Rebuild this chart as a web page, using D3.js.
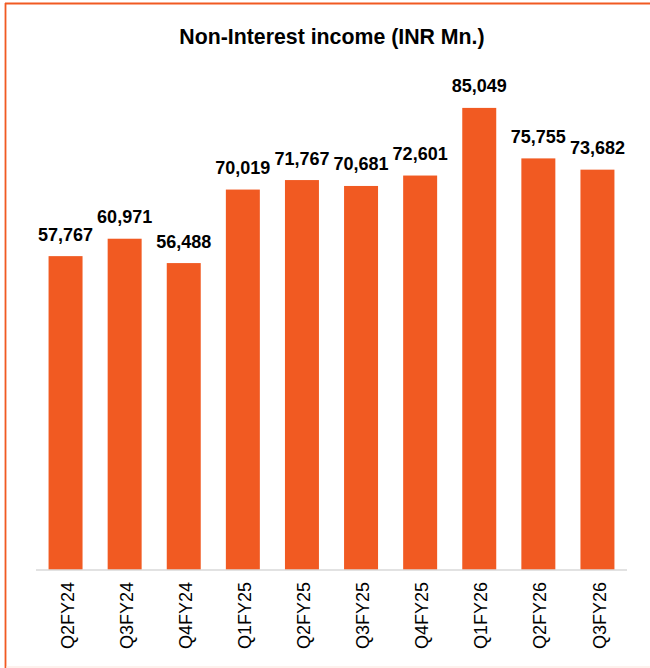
<!DOCTYPE html>
<html>
<head>
<meta charset="utf-8">
<script src="https://cdn.jsdelivr.net/npm/d3@7"></script>
<style>
  html, body { margin: 0; padding: 0; background: #fff; }
  svg { display: block; }
</style>
</head>
<body>
<svg id="chart" width="650" height="668"></svg>
<script>
const categories = ["Q2FY24","Q3FY24","Q4FY24","Q1FY25","Q2FY25","Q3FY25","Q4FY25","Q1FY26","Q2FY26","Q3FY26"];
const values = [57767, 60971, 56488, 70019, 71767, 70681, 72601, 85049, 75755, 73682];
const titleText = "Non-Interest income (INR Mn.)";

const svg = d3.select("#chart");
const W = 650, H = 668;
const margin = {left: 36, right: 23, top: 81, bottom: 98};
const barColor = "#F15A22";

// frame
svg.append("line").attr("x1", 5.5).attr("x2", 5.5).attr("y1", 3).attr("y2", 668)
  .attr("stroke", barColor).attr("stroke-width", 1.8);
svg.append("line").attr("x1", 5).attr("x2", 650).attr("y1", 3.5).attr("y2", 3.5)
  .attr("stroke", barColor).attr("stroke-width", 1.8);
svg.append("line").attr("x1", 6).attr("x2", 650).attr("y1", 667).attr("y2", 667)
  .attr("stroke", "#fde3da").attr("stroke-width", 1);

const x = d3.scaleBand().domain(categories).range([margin.left, W - margin.right]).paddingInner(0.425).paddingOuter(0.2125);
const y = d3.scaleLinear().domain([0, 90000]).range([H - margin.bottom, margin.top]);

svg.append("text").attr("x", 332).attr("y", 44).attr("text-anchor", "middle")
  .attr("font-family", "Liberation Sans, Arial, sans-serif").attr("font-weight", "bold")
  .attr("font-size", 21.3).attr("fill", "#000").text(titleText);

svg.append("g").selectAll("rect").data(values).join("rect")
  .attr("x", (d, i) => x(categories[i]))
  .attr("width", x.bandwidth())
  .attr("y", d => y(d))
  .attr("height", d => y(0) - y(d))
  .attr("fill", barColor);

svg.append("g").selectAll("text").data(values).join("text")
  .attr("x", (d, i) => x(categories[i]) + x.bandwidth() / 2)
  .attr("y", d => y(d) - 15.5)
  .attr("text-anchor", "middle")
  .attr("font-family", "Liberation Sans, Arial, sans-serif").attr("font-weight", "bold")
  .attr("font-size", 18).attr("fill", "#000")
  .text(d => d3.format(",")(d));

const xAxis = d3.axisBottom(x).tickSize(0).tickPadding(0);
const gx = svg.append("g").attr("transform", `translate(0,${y(0)})`).call(xAxis);
gx.select(".domain").attr("stroke", "#d9d9d9").attr("stroke-width", 1.5).attr("d", `M${margin.left},0H${W - margin.right}`);
gx.selectAll(".tick text")
  .attr("font-family", "Liberation Sans, Arial, sans-serif")
  .attr("font-size", 18).attr("fill", "#000")
  .attr("text-anchor", "end")
  .attr("transform", "rotate(-90)")
  .attr("x", -12).attr("y", 0).attr("dy", "0.45em");
</script>
</body>
</html>
